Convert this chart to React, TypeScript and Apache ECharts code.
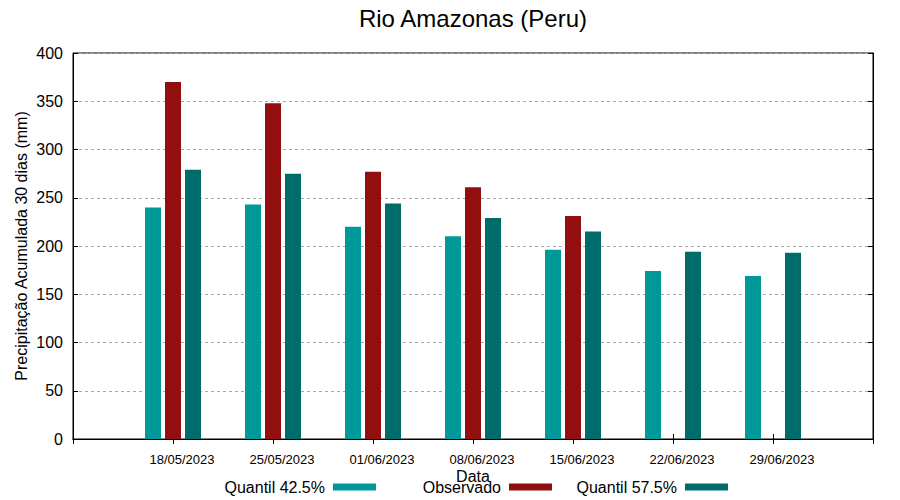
import React, { useEffect, useRef } from "react";
import * as echarts from "echarts";

const dates = ["18/05/2023", "25/05/2023", "01/06/2023", "08/06/2023", "15/06/2023", "22/06/2023", "29/06/2023"];
const q425 = [240, 243, 220, 210, 196, 174, 169];
const observado: (number | null)[] = [370, 348, 277, 261, 231, null, null];
const q575 = [279, 275, 244, 229, 215, 194, 193];
const yTicks = { min: 0, max: 400, interval: 50 };

const FONT = "'Liberation Sans', Arial, sans-serif";

export default function App() {
  const ref = useRef<HTMLDivElement>(null);
  useEffect(() => {
    if (!ref.current) return;
    const chart = echarts.init(ref.current, null, { renderer: "svg" });
    const cats = ["", ...dates, ""];
    const pad = (arr: (number | null)[]) => [null, ...arr.map((v) => (v == null ? null : v)), null];
    const legendBase = {
      orient: "horizontal",
      top: 479,
      padding: 0,
      align: "right",
      itemWidth: 43,
      itemHeight: 7,
      icon: "rect",
      selectedMode: false,
      textStyle: { fontSize: 16, color: "#000", fontFamily: FONT, padding: [0, 3, 0, 0] },
    };
    chart.setOption({
      animation: false,
      textStyle: { fontFamily: FONT },
      title: {
        text: "Rio Amazonas (Peru)",
        left: 473,
        textAlign: "center",
        top: 6,
        padding: 0,
        textStyle: { fontSize: 24, fontWeight: "normal", color: "#000", fontFamily: FONT },
      },
      legend: [
        { ...legendBase, data: ["Quantil 42.5%"], right: 524 },
        { ...legendBase, data: ["Observado"], right: 348 },
        { ...legendBase, data: ["Quantil 57.5%"], right: 172 },
      ],
      grid: { left: 73, right: 27, top: 53, bottom: 61, show: true, borderColor: "#000", borderWidth: 1, containLabel: false },
      xAxis: [
        {
          type: "category",
          data: cats,
          boundaryGap: false,
          position: "bottom",
          name: "Data",
          nameLocation: "middle",
          nameGap: 29,
          nameMoveOverlap: false,
          nameTextStyle: { fontSize: 16, color: "#000", fontFamily: FONT },
          axisLine: { show: true, lineStyle: { color: "#000", width: 1 } },
          axisTick: { show: true, inside: true, length: 5, lineStyle: { color: "#000" } },
          axisLabel: { fontSize: 13, color: "#000", margin: 14, padding: [0, 0, 0, 18], interval: 0, fontFamily: FONT },
          splitLine: { show: false },
        },
        {
          type: "category",
          data: cats,
          boundaryGap: false,
          position: "top",
          axisLine: { show: true, lineStyle: { color: "#000", width: 1 } },
          axisTick: { show: true, inside: true, length: 5, lineStyle: { color: "#000" } },
          axisLabel: { show: false },
          splitLine: { show: false },
        },
      ],
      yAxis: [
        {
          type: "value",
          min: yTicks.min,
          max: yTicks.max,
          interval: yTicks.interval,
          position: "left",
          name: "Precipitação Acumulada 30 dias (mm)",
          nameLocation: "middle",
          nameGap: 44,
          nameMoveOverlap: false,
          nameTextStyle: { fontSize: 16, color: "#000", fontFamily: FONT },
          axisLine: { show: true, lineStyle: { color: "#000", width: 1 } },
          axisTick: { show: true, inside: true, length: 5, lineStyle: { color: "#000" } },
          axisLabel: { fontSize: 16, color: "#000", margin: 10, fontFamily: FONT },
          splitLine: { show: true, lineStyle: { color: "#a8a8a8", type: [3, 3], width: 1 } },
        },
        {
          type: "value",
          min: yTicks.min,
          max: yTicks.max,
          interval: yTicks.interval,
          position: "right",
          axisLine: { show: true, lineStyle: { color: "#000", width: 1 } },
          axisTick: { show: true, inside: true, length: 5, lineStyle: { color: "#000" } },
          axisLabel: { show: false },
          splitLine: { show: false },
        },
      ],
      series: [
        { name: "Quantil 42.5%", type: "bar", data: pad(q425), barWidth: 16, barGap: "25%", itemStyle: { color: "#009999" } },
        { name: "Observado", type: "bar", data: pad(observado), barWidth: 16, barGap: "25%", itemStyle: { color: "#930e0e" } },
        { name: "Quantil 57.5%", type: "bar", data: pad(q575), barWidth: 16, barGap: "25%", itemStyle: { color: "#006b6b" } },
      ],
    });
    return () => chart.dispose();
  }, []);
  return <div ref={ref} style={{ width: 900, height: 500, position: "absolute", left: 0, top: 0 }} />;
}
